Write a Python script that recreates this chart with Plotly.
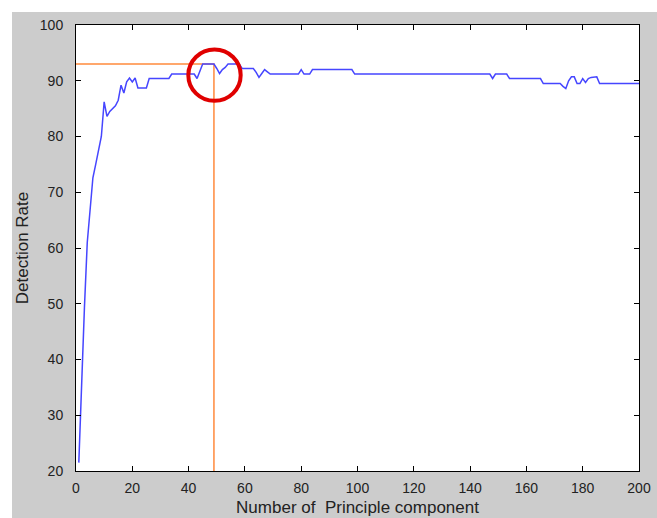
import plotly.graph_objects as go

# Detection rate (%) versus number of principal components kept (1..200)
components = list(range(1, 201))
detection_rate = [
    21.5, 37.0, 49.4, 61.0, 67.0, 72.6, 75.0, 77.5, 80.0, 86.2,   # 1-10
    83.6, 84.5, 85.0, 85.5, 86.5, 89.2, 87.8, 89.8, 90.5, 89.8,   # 11-20
    90.5, 88.7, 88.7, 88.7, 88.7, 90.4, 90.4, 90.4, 90.4, 90.4,   # 21-30
    90.4, 90.4, 90.4, 91.2, 91.2, 91.2, 91.2, 91.2, 91.2, 91.2,   # 31-40
    91.2, 91.2, 90.4, 91.8, 93.0, 93.0, 93.0, 93.0, 93.0, 92.2,   # 41-50
    91.3, 92.0, 92.4, 93.0, 93.0, 93.0, 93.0, 93.0, 92.2, 92.2,   # 51-60
    92.2, 92.2, 92.2, 91.5, 90.6, 91.3, 92.0, 91.6, 91.2, 91.2,   # 61-70
    91.2, 91.2, 91.2, 91.2, 91.2, 91.2, 91.2, 91.2, 91.2, 92.0,   # 71-80
    91.2, 91.2, 91.2, 92.0, 92.0, 92.0, 92.0, 92.0, 92.0, 92.0,   # 81-90
    92.0, 92.0, 92.0, 92.0, 92.0, 92.0, 92.0, 92.0, 91.2, 91.2,   # 91-100
    91.2, 91.2, 91.2, 91.2, 91.2, 91.2, 91.2, 91.2, 91.2, 91.2,   # 101-110
    91.2, 91.2, 91.2, 91.2, 91.2, 91.2, 91.2, 91.2, 91.2, 91.2,   # 111-120
    91.2, 91.2, 91.2, 91.2, 91.2, 91.2, 91.2, 91.2, 91.2, 91.2,   # 121-130
    91.2, 91.2, 91.2, 91.2, 91.2, 91.2, 91.2, 91.2, 91.2, 91.2,   # 131-140
    91.2, 91.2, 91.2, 91.2, 91.2, 91.2, 91.2, 90.4, 91.2, 91.2,   # 141-150
    91.2, 91.2, 91.2, 90.4, 90.4, 90.4, 90.4, 90.4, 90.4, 90.4,   # 151-160
    90.4, 90.4, 90.4, 90.4, 90.4, 89.5, 89.5, 89.5, 89.5, 89.5,   # 161-170
    89.5, 89.5, 89.0, 88.6, 90.0, 90.7, 90.7, 89.5, 89.5, 90.4,   # 171-180
    89.7, 90.4, 90.6, 90.7, 90.7, 89.5, 89.5, 89.5, 89.5, 89.5,   # 181-190
    89.5, 89.5, 89.5, 89.5, 89.5, 89.5, 89.5, 89.5, 89.5, 89.5,   # 191-200
]

# Chosen operating point
best_component = 49
best_rate = detection_rate[components.index(best_component)]

x_ticks = [0, 20, 40, 60, 80, 100, 120, 140, 160, 180, 200]
y_ticks = [20, 30, 40, 50, 60, 70, 80, 90, 100]

# Highlight circle size in axis units
circle_center = (49.2, 91.0)
circle_rx, circle_ry = 9.3, 4.6

fig = go.Figure()

# Guide lines to the chosen point
fig.add_trace(go.Scatter(
    x=[0, best_component, best_component],
    y=[best_rate, best_rate, 20],
    mode="lines",
    line=dict(color="#ff8a3d", width=1.5),
    hoverinfo="skip",
))

fig.add_trace(go.Scatter(
    x=components, y=detection_rate,
    mode="lines",
    line=dict(color="#4646ff", width=1.5),
))

W, H = 657, 518
ml, mr, mt, mb = 76, 18, 25, 47
pw, ph = W - ml - mr, H - mt - mb

def px_to_paper_x(px):
    return (px - ml) / pw

def px_to_paper_y(py):
    return (H - mb - py) / ph

shapes = [
    # white outer border strips (top and left)
    dict(type="rect", xref="paper", yref="paper",
         x0=px_to_paper_x(0), x1=px_to_paper_x(W), y0=px_to_paper_y(12), y1=px_to_paper_y(0),
         fillcolor="white", line=dict(width=0), layer="below"),
    dict(type="rect", xref="paper", yref="paper",
         x0=px_to_paper_x(0), x1=px_to_paper_x(12), y0=px_to_paper_y(H), y1=px_to_paper_y(0),
         fillcolor="white", line=dict(width=0), layer="below"),
    # red highlight circle
    dict(type="circle", xref="x", yref="y",
         x0=circle_center[0] - circle_rx, x1=circle_center[0] + circle_rx,
         y0=circle_center[1] - circle_ry, y1=circle_center[1] + circle_ry,
         line=dict(color="#e00000", width=4)),
]

axis_common = dict(
    showgrid=False, zeroline=False, automargin=False,
    showline=True, linecolor="black", linewidth=1, mirror="ticks",
    ticks="inside", ticklen=5, tickcolor="black", tickwidth=1,
    tickfont=dict(family="Liberation Sans, Arial, sans-serif", size=14, color="#222"),
)

fig.update_layout(
    template="none",
    width=W, height=H,
    margin=dict(l=ml, r=mr, t=mt, b=mb, pad=0, autoexpand=False),
    paper_bgcolor="#cccccc", plot_bgcolor="white",
    showlegend=False,
    shapes=shapes,
    xaxis=dict(
        range=[0, 200], tickvals=x_ticks, ticklabelstandoff=4,
        title=dict(text="Number of  Principle component",
                   font=dict(family="Liberation Sans, Arial, sans-serif", size=17, color="#222"),
                   standoff=6),
        **axis_common,
    ),
    yaxis=dict(
        range=[20, 100], tickvals=y_ticks, ticklabelstandoff=9,
        title=dict(text="Detection Rate",
                   font=dict(family="Liberation Sans, Arial, sans-serif", size=17, color="#222"),
                   standoff=6),
        **axis_common,
    ),
)

fig.write_html(
    "out.html",
    post_script="document.body.style.margin='0';document.body.style.overflow='hidden';",
)
